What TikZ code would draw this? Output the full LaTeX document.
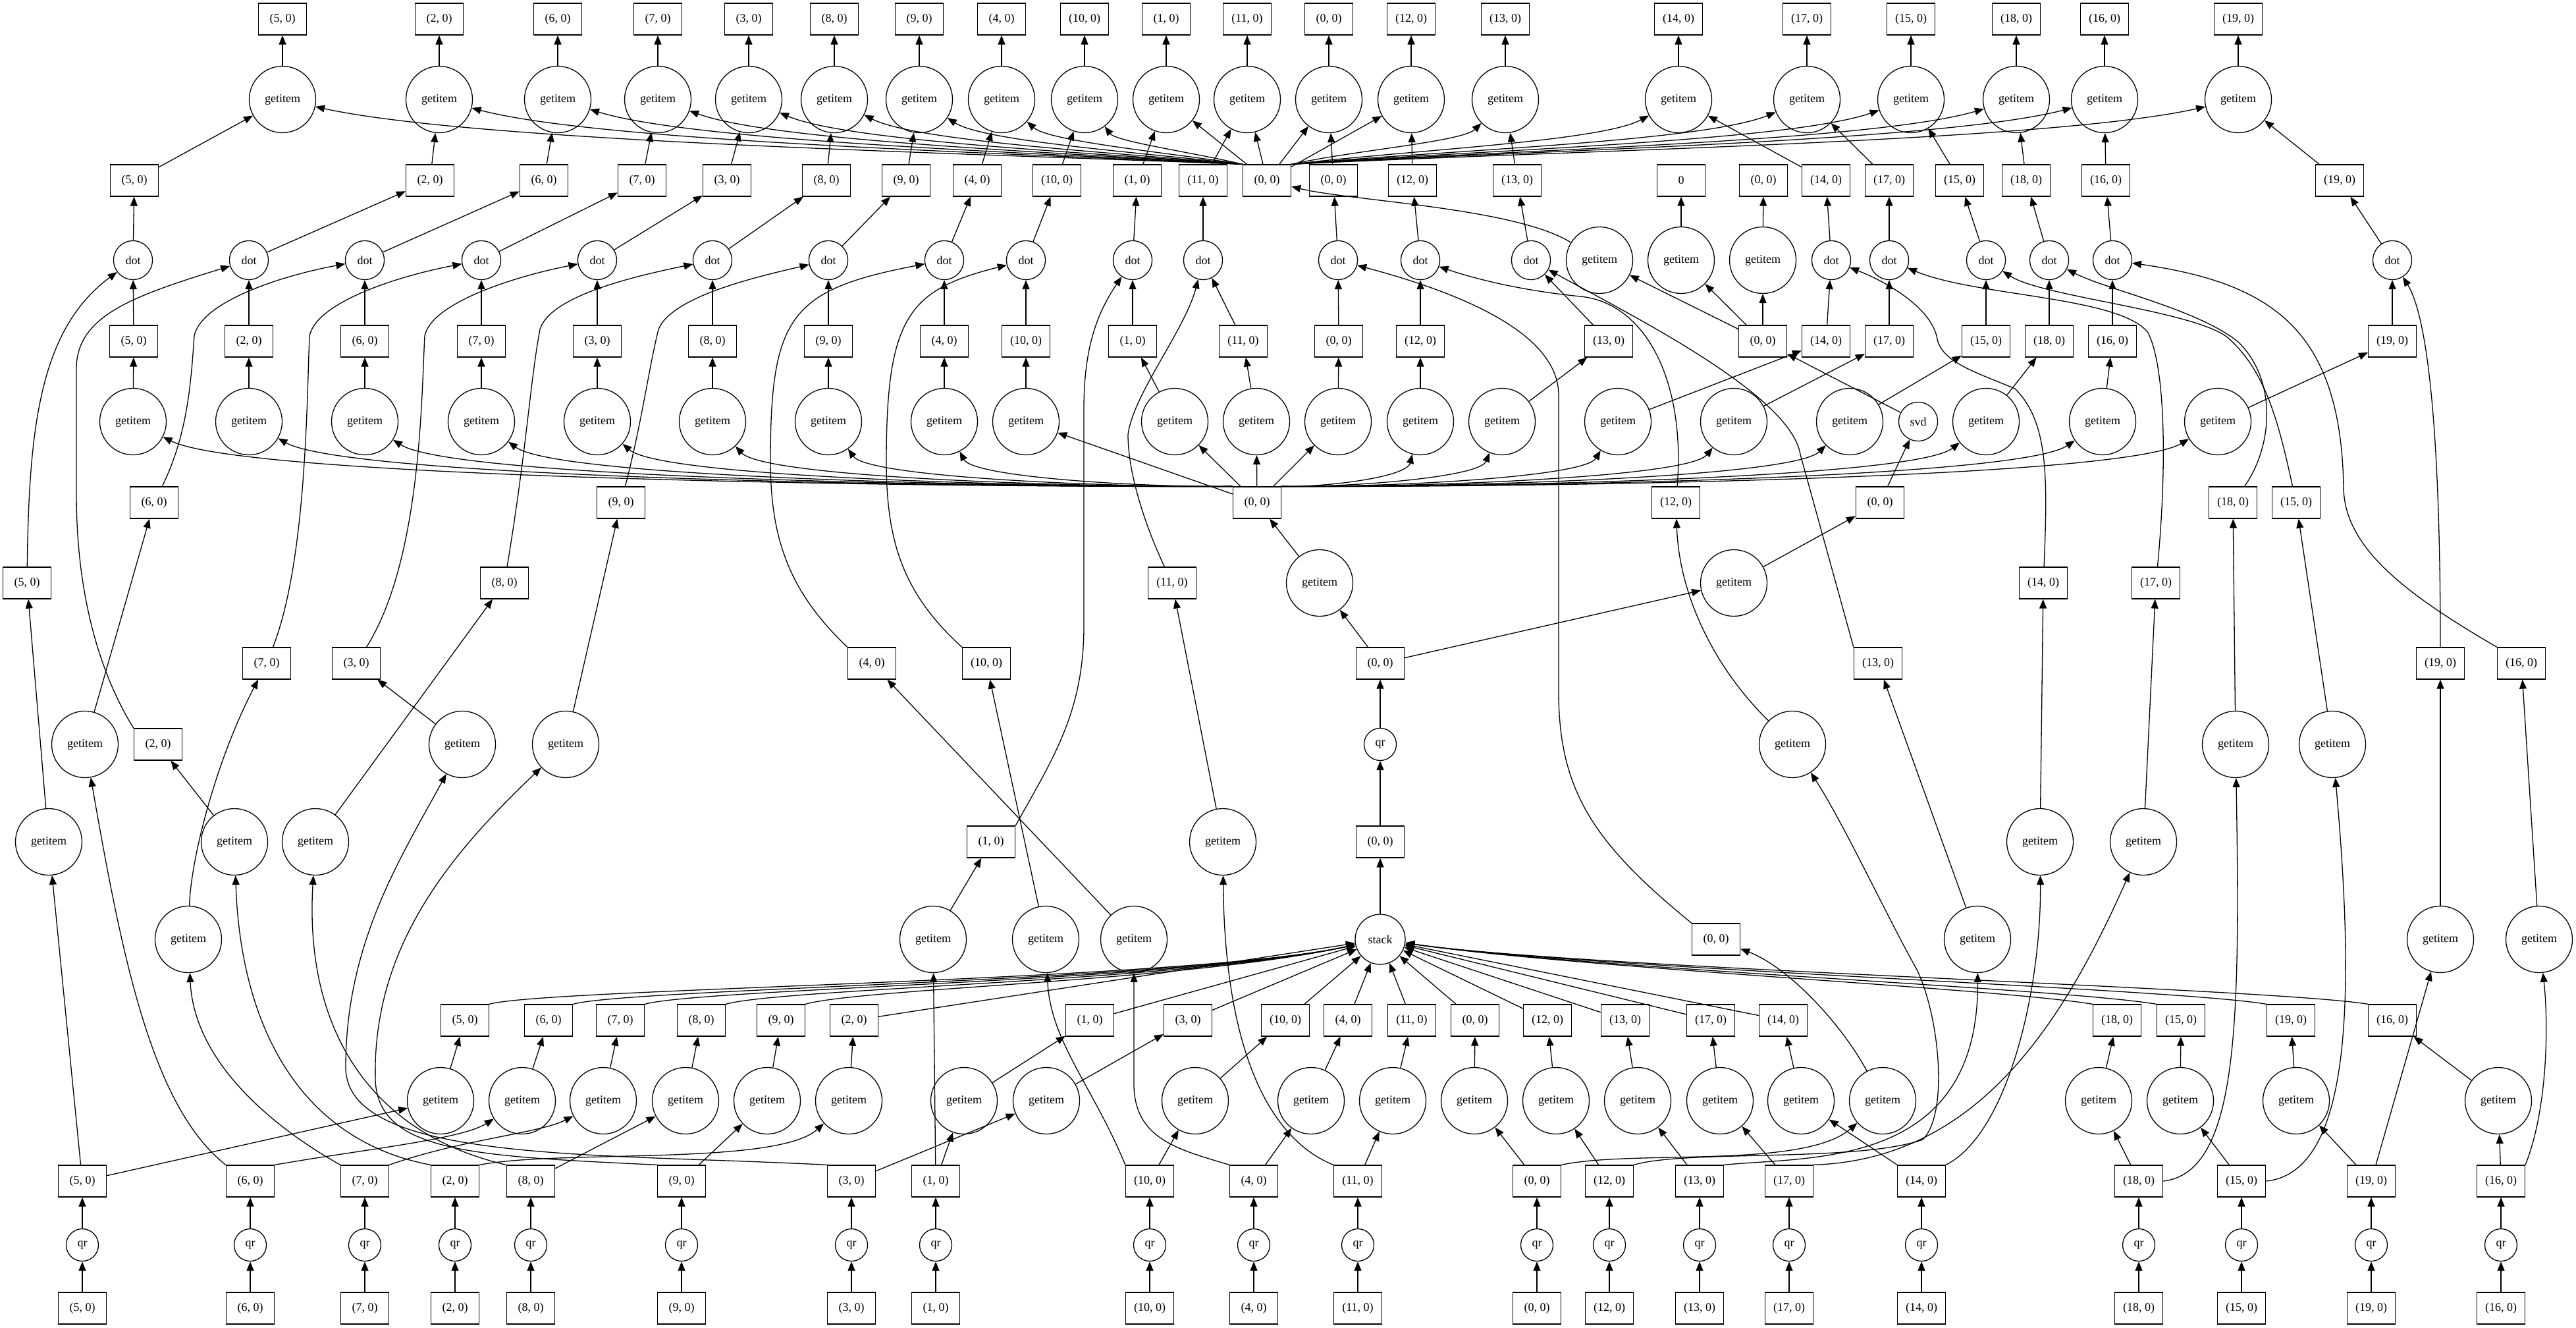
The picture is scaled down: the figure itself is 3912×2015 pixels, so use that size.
\documentclass[tikz,border=0pt]{standalone}
\usepackage{fontspec}
\setmainfont{Liberation Serif}
\usetikzlibrary{arrows.meta}
\begin{document}
\begin{tikzpicture}[x=1pt,y=-1pt,
  nd/.style={draw, line width=1.3pt, inner sep=0pt, font=\fontsize{18}{20}\selectfont},
  mybox/.style={nd, rectangle, minimum width=73pt, minimum height=48pt},
  mygi/.style={nd, circle, minimum size=101pt},
  mydot/.style={nd, circle, minimum size=59pt},
  myqr/.style={nd, circle, minimum size=49pt},
  mystack/.style={nd, circle, minimum size=76pt},
  ed/.style={-{Triangle[length=14pt,width=11pt]}, line width=1.3pt}]
\useasboundingbox (0,0) rectangle (3912,2015);

% ---------------- rows A and B
\foreach \k/\x in {5/429,2/667,6/847,7/999,3/1137,8/1267,9/1396,4/1521,10/1647,1/1771,11/1894,0/2018,12/2143,13/2286,14/2549,17/2744,15/2902,18/3062,16/3196,19/3399}{
  \node[mybox] (a\k) at (\x,29) {(\k, 0)};
  \node[mygi] (b\k) at (\x,151) {getitem};
  \draw[ed] (b\k) -- (a\k);
}
% ---------------- row C
\foreach \k/\x in {5/204,2/653,6/826,7/975,3/1104,8/1255,9/1376,4/1484,10/1605,1/1727,11/1827,0/2025,12/2145,13/2304,14/2773,17/2869,15/2976,18/3077,16/3198,19/3553}{
  \node[mybox] (c\k) at (\x,274) {(\k, 0)};
  \draw[ed] (c\k) -- (b\k);
}
\node[mybox] (hubC) at (1924,274) {(0, 0)};
\node[mybox] (czero) at (2553,274) {0};
\node[mybox] (cv) at (2678,274) {(0, 0)};
% ---------------- row D
\foreach \k/\x in {5/202,2/378,6/554,7/731,3/907,8/1082,9/1258,4/1434,10/1558,1/1720,11/1827,0/2032,12/2157,13/2325,14/2781,17/2869,15/3016,18/3112,16/3208,19/3633}{
  \node[mydot] (d\k) at (\x,395) {dot};
  \draw[ed] (d\k) -- (c\k);
}
\node[mygi] (du) at (2429,395) {getitem};
\node[mygi] (ds) at (2553,395) {getitem};
\node[mygi] (dv) at (2677,395) {getitem};
% ---------------- row E
\foreach \k/\x in {5/203,2/378,6/554,7/731,3/907,8/1082,9/1258,4/1434,10/1558,1/1720,11/1888,0/2033,12/2157,13/2443,14/2773,17/2869,15/3016,18/3112,16/3208,19/3633}{
  \node[mybox] (e\k) at (\x,518) {(\k, 0)};
  \draw[ed] (e\k) -- (d\k);
}
\node[mybox] (esvd) at (2677,518) {(0, 0)};
% ---------------- row F
\foreach \k/\x in {5/202,2/378,6/554,7/731,3/907,8/1082,9/1258,4/1434,10/1558,1/1784,11/1908,0/2032,12/2157,13/2281,14/2457,17/2633,15/2809,18/3016,16/3193,19/3368}{
  \node[mygi] (f\k) at (\x,640) {getitem};
  \draw[ed] (f\k) -- (e\k);
}
\node[mydot] (svd) at (2913,640) {svd};
% ---------------- row G
\node[mybox] (qb6) at (234,763) {(6, 0)};
\node[mybox] (qb9) at (943,763) {(9, 0)};
\node[mybox] (hubG) at (1909,763) {(0, 0)};
\node[mybox] (qb12) at (2545,763) {(12, 0)};
\node[mybox] (gr) at (2855,763) {(0, 0)};
\node[mybox] (qb18) at (3391,763) {(18, 0)};
\node[mybox] (qb15) at (3487,763) {(15, 0)};
% ---------------- row H
\node[mybox] (qb5) at (41,885) {(5, 0)};
\node[mybox] (qb8) at (766,885) {(8, 0)};
\node[mybox] (qb11) at (1780,885) {(11, 0)};
\node[mygi] (hq2) at (2004,885) {getitem};
\node[mygi] (hr2) at (2633,885) {getitem};
\node[mybox] (qb14) at (3103,885) {(14, 0)};
\node[mybox] (qb17) at (3274,885) {(17, 0)};
% ---------------- row I
\node[mybox] (qb7) at (405,1007) {(7, 0)};
\node[mybox] (qb3) at (541,1007) {(3, 0)};
\node[mybox] (qb4) at (1324,1007) {(4, 0)};
\node[mybox] (qb10) at (1498,1007) {(10, 0)};
\node[mybox] (iqr) at (2096,1007) {(0, 0)};
\node[mybox] (qb13) at (2852,1007) {(13, 0)};
\node[mybox] (qb19) at (3706,1007) {(19, 0)};
\node[mybox] (qb16) at (3829,1007) {(16, 0)};
% ---------------- row J
\node[mygi] (qg6) at (129,1130) {getitem};
\node[mybox] (qb2) at (240,1130) {(2, 0)};
\node[mygi] (qg3) at (702,1130) {getitem};
\node[mygi] (qg9) at (859,1130) {getitem};
\node[myqr] (qr2) at (2096,1130) {qr};
\node[mygi] (qg12) at (2722,1130) {getitem};
\node[mygi] (qg18) at (3395,1130) {getitem};
\node[mygi] (qg15) at (3542,1130) {getitem};
% ---------------- row K
\node[mygi] (qg5) at (74,1278) {getitem};
\node[mygi] (qg2) at (356,1278) {getitem};
\node[mygi] (qg8) at (479,1278) {getitem};
\node[mybox] (qb1) at (1505,1278) {(1, 0)};
\node[mygi] (qg11) at (1857,1278) {getitem};
\node[mybox] (kst) at (2096,1278) {(0, 0)};
\node[mygi] (qg14) at (3098,1278) {getitem};
\node[mygi] (qg17) at (3255,1278) {getitem};
% ---------------- row L
\node[mygi] (qg7) at (286,1426) {getitem};
\node[mygi] (qg1) at (1417,1426) {getitem};
\node[mygi] (qg10) at (1588,1426) {getitem};
\node[mygi] (qg4) at (1722,1426) {getitem};
\node[mystack] (stack) at (2096,1426) {stack};
\node[mybox] (qb0) at (2606,1426) {(0, 0)};
\node[mygi] (qg13) at (3003,1426) {getitem};
\node[mygi] (qg19) at (3706,1426) {getitem};
\node[mygi] (qg16) at (3856,1426) {getitem};
% ---------------- rows M N O P Q
\foreach \k/\xm/\xn/\xo in {5/706/669/125,6/833/793/380,7/942/916/554,8/1065/1041/806,9/1186/1165/1035,2/1297/1289/691,1/1655/1464/1421,3/1804/1589/1293,10/1952/1815/1746,4/2047/1991/1904,11/2144/2115/2062,0/2240/2239/2334,12/2350/2363/2444,13/2468/2487/2581,17/2598/2612/2717,14/2708/2735/2918,18/3215/3187/3248,15/3312/3311/3404,19/3479/3487/3601,16/3633/3794/3798}{
  \node[mybox] (m\k) at (\xm,1549) {(\k, 0)};
  \node[mygi] (n\k) at (\xn,1671) {getitem};
  \node[mybox] (o\k) at (\xo,1793) {(\k, 0)};
  \node[myqr] (p\k) at (\xo,1890) {qr};
  \node[mybox] (q\k) at (\xo,1986) {(\k, 0)};
  \draw[ed] (q\k) -- (p\k);
  \draw[ed] (p\k) -- (o\k);
  \draw[ed] (n\k) -- (m\k);
}
\node[mygi] (qg0) at (2859,1671) {getitem};

% ---------------- O -> R getitem
\foreach \k in {5,8,9,1,3,10,4,11,0,12,13,17,14,18,15,19,16}{\draw[ed] (o\k) -- (n\k);}
\draw[ed] (o2.north east) .. controls (850,1745) and (1180,1770) .. (n2);
\draw[ed] (o6.north east) .. controls (550,1745) and (700,1730) .. (n6);
\draw[ed] (o7.north east) .. controls (700,1730) and (820,1720) .. (n7);

% ---------------- M -> stack
\foreach \k in {2,1,3,10,4,11,0,12,13,17,14}{\draw[ed] (m\k) -- (stack);}
\foreach \k/\ca in {5/830,6/960,7/1070,8/1190,9/1310}{\draw[ed] (m\k.north east) .. controls (\ca,1500) and (1800,1490) .. (stack);}
\foreach \k/\ca in {18/3030,15/3130,19/3300,16/3450}{\draw[ed] (m\k.north west) .. controls (\ca,1500) and (2400,1470) .. (stack);}

% ---------------- central chain
\draw[ed] (stack) -- (kst);
\draw[ed] (kst) -- (qr2);
\draw[ed] (qr2) -- (iqr);
\draw[ed] (iqr) -- (hq2);
\draw[ed] (iqr) -- (hr2);
\draw[ed] (hq2) -- (hubG);
\draw[ed] (hr2) -- (gr);
\draw[ed] (gr) -- (svd);
\draw[ed] (svd) -- (esvd);
\draw[ed] (esvd) -- (du);
\draw[ed] (esvd) -- (ds);
\draw[ed] (esvd) -- (dv);
\draw[ed] (du) .. controls (2300,315) and (2050,305) .. (hubC);
\draw[ed] (ds) -- (czero);
\draw[ed] (dv) -- (cv);

% ---------------- hub G -> F getitems
\foreach \k/\ca/\cb in {5/1371/369,2/1424/527,6/1477/686,7/1530/845,3/1583/1004,8/1635/1161,9/1688/1319,4/1741/1478}
  {\draw[ed] (hubG.north west) .. controls (\ca,740) and (\cb,725) .. (f\k);}
\foreach \k/\ca/\cb in {12/2009/2136,13/2046/2247,14/2099/2406,17/2152/2564,15/2205/2723,18/2267/2909,16/2320/3068,19/2372/3226}
  {\draw[ed] (hubG.north east) .. controls (\ca,740) and (\cb,725) .. (f\k);}
\foreach \k in {10,1,11,0}{\draw[ed] (hubG) -- (f\k);}

% ---------------- hub C -> B getitems
\foreach \k/\ca/\cb in {5/1450/721,2/1521/911,6/1575/1055,7/1621/1177,3/1662/1287,8/1701/1391,9/1740/1494,4/1777/1594,10/1815/1695}
  {\draw[ed] (hubC.north west) .. controls (\ca,232) and (\cb,215) .. (b\k);}
\foreach \k in {1,11,0,12}{\draw[ed] (hubC) -- (b\k);}
\foreach \k/\ca/\cb in {13/2058/2221,14/2137/2431,17/2196/2587,15/2243/2714,18/2291/2842,16/2331/2949,19/2392/3111}
  {\draw[ed] (hubC.north east) .. controls (\ca,228) and (\cb,215) .. (b\k);}

% ---------------- O -> Q getitem
\draw[ed] (o5) -- (qg5);
\draw[ed] (o6.north west) .. controls (230,1680) and (185,1450) .. (qg6);
\draw[ed] (o7.north west) .. controls (430,1720) and (295,1620) .. (qg7);
\draw[ed] (o2.north west) .. controls (450,1730) and (365,1550) .. (qg2);
\draw[ed] (o8.north west) .. controls (560,1720) and (462,1560) .. (qg8);
\draw[ed] (o9.north west) .. controls (720,1755) and (575,1750) .. (570,1640) .. controls (565,1440) and (680,1300) .. (qg9);
\draw[ed] (o3.north west) .. controls (900,1750) and (525,1765) .. (525,1620) .. controls (525,1430) and (610,1300) .. (qg3);
\draw[ed] (o1) -- (qg1);
\draw[ed] (o10.north west) .. controls (1660,1650) and (1595,1580) .. (qg10);
\draw[ed] (o4.north west) .. controls (1790,1745) and (1725,1730) .. (1722,1650) -- (qg4);
\draw[ed] (o11.north west) .. controls (1930,1730) and (1860,1600) .. (qg11);
\draw[ed] (o0.north east) .. controls (2480,1745) and (2740,1775) .. (qg0);
\draw[ed] (o12.north east) .. controls (2560,1745) and (2820,1765) .. (2920,1730) .. controls (2960,1690) and (2945,1540) .. (2910,1470) .. controls (2870,1400) and (2800,1250) .. (qg12);
\draw[ed] (o13.north east) .. controls (2750,1755) and (3005,1775) .. (qg13);
\draw[ed] (o17.north east) .. controls (3000,1760) and (3130,1560) .. (qg17);
\draw[ed] (o14.north east) .. controls (3050,1720) and (3100,1500) .. (qg14);
\draw[ed] (o18.east) .. controls (3400,1780) and (3402,1550) .. (qg18);
\draw[ed] (o15.east) .. controls (3575,1780) and (3575,1500) .. (qg15);
\draw[ed] (o19) -- (qg19);
\draw[ed] (o16.north east) .. controls (3870,1680) and (3870,1550) .. (qg16);

% ---------------- Q getitem -> Q box
\draw[ed] (qg5) -- (qb5);
\draw[ed] (qg6) -- (qb6);
\draw[ed] (qg2) -- (qb2);
\draw[ed] (qg7) .. controls (290,1300) and (330,1150) .. (qb7);
\draw[ed] (qg3) -- (qb3);
\draw[ed] (qg8) -- (qb8);
\draw[ed] (qg9) -- (qb9);
\draw[ed] (qg1) -- (qb1);
\draw[ed] (qg10) -- (qb10);
\draw[ed] (qg4) -- (qb4);
\draw[ed] (qg11) -- (qb11);
\draw[ed] (qg0) .. controls (2800,1560) and (2720,1470) .. (qb0);
\draw[ed] (qg12) .. controls (2600,1010) and (2550,900) .. (qb12);
\draw[ed] (qg13) -- (qb13);
\draw[ed] (qg14) -- (qb14);
\draw[ed] (qg17) -- (qb17);
\draw[ed] (qg18) -- (qb18);
\draw[ed] (qg15) -- (qb15);
\draw[ed] (qg19) -- (qb19);
\draw[ed] (qg16) -- (qb16);

% ---------------- Q box -> dot
\draw[ed] (qb5) .. controls (44,650) and (60,500) .. (d5);
\draw[ed] (qb2.north west) .. controls (150,1020) and (116,900) .. (116,750) -- (116,560) .. controls (116,480) and (200,450) .. (d2);
\draw[ed] (qb6) .. controls (285,660) and (290,580) .. (295,510) .. controls (305,460) and (420,420) .. (d6);
\draw[ed] (qb7) .. controls (466,850) and (466,600) .. (470,510) .. controls (480,460) and (600,420) .. (d7);
\draw[ed] (qb3) .. controls (640,850) and (640,600) .. (645,510) .. controls (655,460) and (780,420) .. (d3);
\draw[ed] (qb8) .. controls (800,680) and (805,580) .. (820,500) .. controls (835,450) and (960,420) .. (d8);
\draw[ed] (qb9) .. controls (975,640) and (985,560) .. (1000,500) .. controls (1020,450) and (1150,420) .. (d9);
\draw[ed] (qb4.north west) .. controls (1200,900) and (1170,820) .. (1170,700) .. controls (1170,480) and (1200,440) .. (d4);
\draw[ed] (qb10.north west) .. controls (1370,900) and (1346,820) .. (1346,700) .. controls (1346,480) and (1380,440) .. (d10);
\draw[ed] (qb1.north east) .. controls (1600,1150) and (1646,1080) .. (1646,950) -- (1646,620) .. controls (1646,520) and (1670,470) .. (d1);
\draw[ed] (qb11) .. controls (1740,800) and (1713,720) .. (1713,660) .. controls (1720,600) and (1800,500) .. (d11);
\draw[ed] (qb0.north west) .. controls (2420,1280) and (2367,1200) .. (2367,1050) -- (2367,600) .. controls (2367,500) and (2200,440) .. (d0);
\draw[ed] (qb12) .. controls (2560,580) and (2500,460) .. (2400,450) .. controls (2300,440) and (2230,420) .. (d12);
\draw[ed] (qb13.north west) -- (2734,690) .. controls (2720,600) and (2480,480) .. (d13);
\draw[ed] (qb14) .. controls (3110,720) and (3110,640) .. (3060,590) .. controls (3000,565) and (2950,550) .. (2942,515) .. controls (2935,470) and (2870,430) .. (d14);
\draw[ed] (qb17) .. controls (3290,720) and (3290,560) .. (3262,505) .. controls (3220,450) and (3000,450) .. (d17);
\draw[ed] (qb15) .. controls (3460,640) and (3440,560) .. (3380,510) .. controls (3320,470) and (3100,450) .. (d15);
\draw[ed] (qb18) .. controls (3450,680) and (3460,580) .. (3400,520) .. controls (3340,470) and (3200,440) .. (d18);
\draw[ed] (qb16.north west) .. controls (3650,900) and (3560,830) .. (3559,740) .. controls (3555,500) and (3450,430) .. (d16);
\draw[ed] (qb19) .. controls (3706,600) and (3680,470) .. (d19);
\end{tikzpicture}
\end{document}
